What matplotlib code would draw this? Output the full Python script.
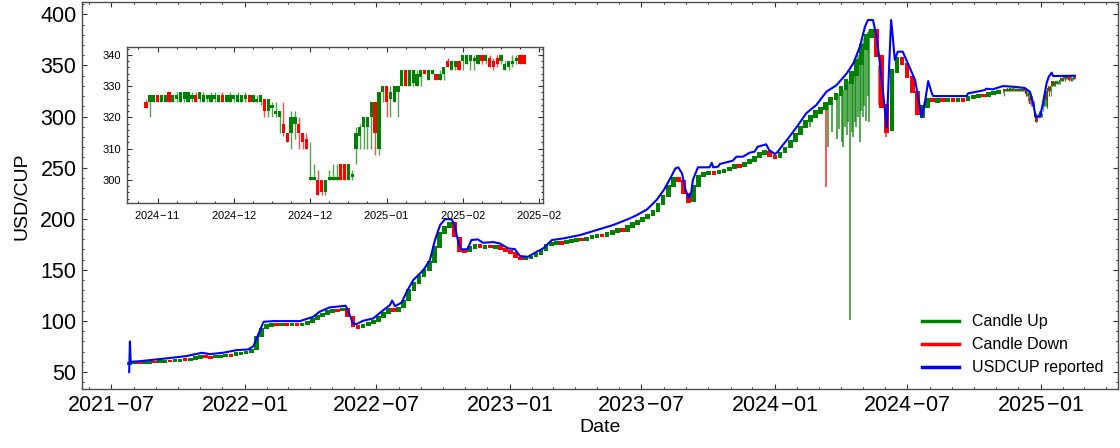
import matplotlib
matplotlib.use("Agg")
import numpy as np
import pandas as pd
import matplotlib.pyplot as plt
import matplotlib.dates as mdates
from matplotlib.lines import Line2D
from matplotlib.ticker import MultipleLocator, AutoMinorLocator, FuncFormatter

plt.rcParams['font.family'] = ['Liberation Sans', 'DejaVu Sans']
plt.rcParams['mathtext.fontset'] = 'custom'
plt.rcParams['mathtext.rm'] = 'Liberation Sans'

# reported rate (blue line)
reported_dates = [
    '2021-07-26', '2021-07-27', '2021-07-28', '2021-08-14', '2021-09-15', '2021-10-13',
    '2021-11-03', '2021-11-14', '2021-12-02', '2021-12-21', '2022-01-06', '2022-01-13',
    '2022-01-27', '2022-02-09', '2022-03-18', '2022-04-05', '2022-04-14', '2022-04-28',
    '2022-05-20', '2022-05-23', '2022-05-30', '2022-06-04', '2022-06-13', '2022-06-27',
    '2022-07-11', '2022-07-20', '2022-07-23', '2022-07-27', '2022-08-05', '2022-08-12',
    '2022-08-21', '2022-09-04', '2022-09-13', '2022-09-20', '2022-09-27', '2022-10-04',
    '2022-10-13', '2022-10-17', '2022-10-22', '2022-10-26', '2022-11-04', '2022-11-09',
    '2022-11-18', '2022-11-25', '2022-12-09', '2022-12-18', '2022-12-30', '2023-01-08',
    '2023-01-15', '2023-01-26', '2023-02-07', '2023-02-16', '2023-02-28', '2023-03-16',
    '2023-04-08', '2023-05-01', '2023-05-23', '2023-06-13', '2023-06-25', '2023-07-09',
    '2023-07-22', '2023-08-01', '2023-08-10', '2023-08-17', '2023-08-21', '2023-08-26',
    '2023-08-31', '2023-09-04', '2023-09-08', '2023-09-10', '2023-09-17', '2023-10-03',
    '2023-10-06', '2023-10-08', '2023-10-15', '2023-10-17', '2023-11-04', '2023-11-09',
    '2023-11-18', '2023-11-27', '2023-12-04', '2023-12-08', '2023-12-20', '2023-12-24',
    '2024-01-01', '2024-01-05', '2024-01-10', '2024-01-21', '2024-02-02', '2024-02-13',
    '2024-02-27', '2024-03-12', '2024-03-26', '2024-04-09', '2024-04-18', '2024-04-27',
    '2024-05-04', '2024-05-08', '2024-05-15', '2024-05-20', '2024-05-24', '2024-05-29',
    '2024-06-03', '2024-06-06', '2024-06-09', '2024-06-12', '2024-06-14', '2024-06-18',
    '2024-06-25', '2024-07-03', '2024-07-12', '2024-07-21', '2024-07-26', '2024-07-30',
    '2024-08-04', '2024-08-06', '2024-09-21', '2024-09-23', '2024-10-05', '2024-10-16',
    '2024-10-18', '2024-10-27', '2024-11-03', '2024-11-10', '2024-11-28', '2024-12-10',
    '2024-12-17', '2024-12-21', '2024-12-25', '2024-12-31', '2025-01-04', '2025-01-09',
    '2025-01-12', '2025-01-16', '2025-01-18', '2025-02-17',
]
reported_vals = [
    50, 80, 60, 61, 63.4, 65.7,
    68.9, 67.6, 68.9, 71.5, 72.2, 75.4,
    99.2, 99.9, 99.9, 104, 109, 113.3,
    114.9, 110.7, 97.7, 97, 100.2, 102.5,
    110.7, 115.6, 120, 114.5, 118, 128.6,
    140, 149.8, 159.6, 179.2, 193.8, 199.7,
    199.4, 193.8, 177.5, 170, 170.3, 179.2,
    179.8, 176.5, 177.2, 175.9, 171, 170.3,
    163.5, 162.8, 167.7, 171, 179.2, 180.8,
    184.1, 189, 193.8, 199.7, 203.6, 209.2,
    218.3, 228.1, 239.6, 249.3, 250.3, 244.4,
    228.1, 220.5, 226.4, 237.9, 250.3, 250.3,
    254.8, 250.3, 251, 253.5, 256.8, 260.7,
    260.7, 264.6, 265.6, 270.4, 272.8, 267.2,
    263.3, 265.6, 270.4, 280.2, 291.7, 303.1,
    311.3, 324.3, 330.8, 342.3, 352.1, 368.3,
    387.9, 394.4, 394.4, 378.1, 355.3, 322.7,
    289, 345, 394.4, 372, 355.3, 363.4,
    363.4, 350.4, 335.7, 299.8, 316.1, 334.7,
    322.7, 320, 320, 322.7, 324.3, 325.9,
    327.2, 326.6, 328.2, 329.8, 328.9, 327.9,
    324.3, 314.5, 299.8, 299.8, 312.9, 332.5,
    338.9, 342.9, 339.6, 339.9,
]

# weekly candles, 2021-07-26 .. 2024-11-04
week_start = '2021-07-26'
week_open = [
    # 2021
    57, 57.5, 60.5, 57.5, 58, 61, 58.5, 59, 62, 59.5, 60, 63.5, 61, 62, 63, 66.5, 66,
    63.5, 64, 64.5, 68, 66, 67,
    # 2022
    67.5, 68.5, 72, 84, 92, 94.5, 98.5, 95, 98.5, 95, 98.5, 95.5, 96, 98, 101, 103.5,
    106, 108, 112, 109.5, 113, 105, 96, 93, 95, 97, 99, 103, 107, 113, 109, 113, 120,
    129, 136, 143, 149, 157, 171, 185, 191, 196.5, 182, 170, 167, 170, 175, 170.5,
    174.5, 170.5, 174, 171,
    # 2023
    169.5, 167, 163, 159.5, 160.5, 162.5, 165, 168, 173, 174, 178, 175, 176, 177.5,
    181.5, 178.5, 180, 181.5, 185.5, 182.5, 184.5, 186, 190.5, 187.5, 191, 194, 196.5,
    199.5, 203, 207, 213, 221, 231, 241, 238, 225, 216, 231, 241, 242.5, 247, 243.5,
    245, 246.5, 249, 254, 251, 253.5, 256, 259, 262, 266.5,
    # 2024
    262, 259, 264, 269, 275, 282, 289, 295, 299, 302, 306, 311, 316, 320, 326, 332,
    340, 350, 365, 377, 386, 360, 312, 286, 343, 358, 352, 340, 325, 299, 308, 318,
    313.5, 318, 314, 318.5, 314, 318.5, 315.5, 317, 318, 322.5, 319.5, 321, 322,
]
week_close = [
    # 2021
    60, 60.5, 57.5, 60.5, 61, 58.5, 61.5, 62, 59.5, 62.5, 63, 60.5, 64, 65.5, 66.5,
    63.5, 63, 66.5, 67, 68, 65, 69.5, 70,
    # 2022
    71, 72.5, 85, 93, 97, 98, 95, 98.5, 95.5, 98.5, 95.5, 98.5, 100, 102.5, 105.5, 108,
    110.5, 111.5, 109, 113, 104, 94, 92.5, 97, 99, 101, 104.5, 108.5, 113, 108.5, 114,
    121, 131, 138, 145, 151, 159, 173, 187, 193, 196.5, 182, 167, 166.5, 173, 175, 171,
    174.5, 171, 174, 169.5, 167,
    # 2023
    166, 161.5, 159.5, 162.5, 164, 166.5, 169.5, 175, 177, 178, 174.5, 179, 180, 181.5,
    178, 182.5, 184, 185.5, 182, 187, 189, 190.5, 187, 193.5, 196.5, 199, 201.5, 204.5,
    209, 215, 223, 233, 241, 236, 224, 215.5, 233, 243, 246, 246.5, 243, 247.5, 249,
    250.5, 254, 250, 255.5, 258.5, 261, 265, 267, 260.5,
    # 2024
    258.5, 265.5, 270.5, 277, 284, 291, 297, 301, 306, 309, 314, 319, 323, 330, 337,
    345, 356, 371, 381, 386, 358, 308, 284, 346, 358, 350, 338, 323, 301, 311, 318,
    314, 318, 314, 318.5, 314.5, 318.5, 314.5, 320, 321, 322, 319, 324, 325, 326,
]

# daily candles, 2024-11-10 .. 2025-02-17 (inset window)
day_start = '2024-11-10'
day_open = [
    325, 325, 325, 327, 325, 325, 328, 325, 326, 325, 326, 325, 326, 327, 326, 325, 326,
    325, 326, 325, 327, 325, 325, 326, 325, 325, 326, 327, 325, 325, 325, 326, 322, 323,
    321, 320, 318, 315, 315, 318, 318, 315, 313, 300, 300, 300, 300, 296, 300, 300, 300,
    305, 305, 300, 301, 310, 314, 317, 317, 320, 325, 310, 328, 330, 326, 325, 328, 330,
    335, 330, 331, 330, 333, 335, 332, 334, 334, 332, 334, 338, 335, 336, 338, 338, 337,
    338, 338, 337, 340, 338, 339, 338, 339, 338, 335, 336, 337, 338, 340, 340,
]
day_close = [
    323, 327, 327, 325, 327, 327, 325, 327, 327, 328, 328, 328, 327, 325, 328, 327, 327,
    327, 327, 327, 325, 327, 327, 327, 327, 327, 327, 325, 327, 326, 327, 322, 326, 324,
    322, 322, 315, 312, 320, 320, 315, 312, 310, 301, 301, 295, 296, 300, 301, 301, 301,
    300, 300, 305, 302, 315, 317, 320, 320, 325, 315, 328, 330, 325, 328, 330, 330, 335,
    330, 335, 335, 334, 335, 334, 335, 335, 332, 334, 336, 336, 338, 338, 335, 340, 340,
    340, 339, 340, 338, 340, 336, 336, 337, 340, 337, 338, 338, 339, 337, 337,
]
day_low = [
    323, 320, 325, 325, 325, 325, 325, 325, 325, 325, 325, 325, 325, 325, 325, 325, 325,
    325, 325, 325, 325, 325, 325, 325, 325, 325, 325, 325, 325, 325, 324, 320, 320, 320,
    320, 315, 314, 312, 310, 313, 310, 310, 310, 300, 300, 295, 295, 295, 300, 300, 300,
    300, 300, 300, 300, 305, 310, 310, 310, 310, 308, 308, 325, 320, 320, 325, 320, 330,
    330, 330, 330, 330, 330, 334, 332, 334, 332, 332, 332, 336, 335, 335, 335, 335, 337,
    335, 335, 337, 337, 337, 336, 335, 336, 337, 335, 335, 336, 337, 337, 337,
]
day_high = [
    326, 327, 327, 327, 327, 327, 328, 327, 328, 328, 328, 328, 328, 328, 328, 328, 327,
    328, 328, 327, 328, 327, 328, 327, 328, 327, 328, 327, 327, 327, 327, 326, 326, 325,
    325, 322, 325, 315, 322, 322, 320, 315, 315, 312, 305, 303, 300, 300, 303, 305, 305,
    305, 305, 305, 303, 317, 318, 320, 320, 325, 325, 328, 330, 330, 330, 330, 330, 335,
    335, 335, 335, 335, 335, 335, 335, 335, 334, 335, 336, 339, 338, 338, 338, 340, 340,
    340, 340, 340, 340, 340, 340, 339, 340, 340, 338, 338, 340, 340, 340, 340,
]

# long lower wicks (spring 2024 sell-offs)
spike_dates = [
    '2024-02-18', '2024-03-11', '2024-03-14', '2024-03-20', '2024-03-26', '2024-03-29',
    '2024-04-02', '2024-04-04', '2024-04-07', '2024-04-09', '2024-04-11', '2024-04-13',
    '2024-04-16', '2024-04-18', '2024-04-20', '2024-04-22', '2024-04-25', '2024-04-27',
    '2024-04-29', '2024-05-01', '2024-05-03', '2024-05-06', '2024-05-08', '2024-05-10',
    '2024-05-23', '2024-06-02',
]
spike_lows = [
    290, 231, 270, 285, 278, 288, 275, 270, 290, 282, 295, 101, 285, 280, 295, 290, 300,
    275, 305, 300, 310, 296, 320, 295, 311, 280,
]
spike_highs = [
    300, 312, 313, 318, 320, 322, 325, 326, 330, 332, 335, 338, 340, 345, 350, 355, 360,
    365, 368, 372, 376, 380, 383, 385, 350, 300,
]
spike_up = [True, False] + [True] * 22 + [False, False]

UP, DOWN, REP = 'green', 'red', 'blue'


def draw_candles(ax, dates, o, c, lo, hi, width, wick_lw):
    o = np.asarray(o, float)
    c = np.asarray(c, float)
    col = np.where(c >= o, UP, DOWN)
    if lo is not None:
        ax.vlines(dates, lo, hi, colors=col, lw=wick_lw, alpha=0.7, zorder=2)
    body = np.where(np.abs(c - o) < 0.4, 0.4, c - o)
    ax.bar(dates, body, bottom=o, width=width, color=col, linewidth=0, zorder=3)


def date_label(x, pos=None):
    y, m = mdates.num2date(x).strftime('%Y %m').split()
    return r'$\mathdefault{%s\hspace{0.06}{-}\hspace{0.06}%s}$' % (y, m)


week_dates = pd.date_range(week_start, periods=len(week_open), freq='7D')
day_dates = pd.date_range(day_start, periods=len(day_open), freq='D')
rep_dates = pd.to_datetime(reported_dates)
sp_dates = pd.to_datetime(spike_dates)

fig = plt.figure(figsize=(11.2, 4.48), dpi=100)
ax = fig.add_axes([0.0732, 0.1306, 0.9248, 0.8649])

draw_candles(ax, week_dates, week_open, week_close, None, None, 6.5, 1)
draw_candles(ax, day_dates, day_open, day_close, day_low, day_high, 1.2, 0.8)
ax.vlines(sp_dates, spike_lows, spike_highs,
          colors=[UP if u else DOWN for u in spike_up], lw=1.1, alpha=0.85, zorder=2)
ax.plot(rep_dates, reported_vals, color=REP, lw=1.5, zorder=4)

ax.set_xlim(pd.Timestamp('2021-05-22'), pd.Timestamp('2025-04-17'))
ax.set_ylim(33, 412)
ax.xaxis.set_major_locator(mdates.MonthLocator(bymonth=[1, 7]))
ax.xaxis.set_minor_locator(mdates.MonthLocator())
ax.xaxis.set_major_formatter(FuncFormatter(date_label))
ax.yaxis.set_major_locator(MultipleLocator(50))
ax.yaxis.set_minor_locator(AutoMinorLocator(5))
ax.set_xlabel('Date', fontsize=14, labelpad=2)
ax.set_ylabel('USD/CUP', fontsize=14, labelpad=7)

handles = [Line2D([], [], color=UP, lw=2.5, label='Candle Up'),
           Line2D([], [], color=DOWN, lw=2.5, label='Candle Down'),
           Line2D([], [], color=REP, lw=2.5, label='USDCUP reported')]
ax.legend(handles=handles, loc='lower right', frameon=False, fontsize=11.5,
          handlelength=2.3)

# inset: last months in daily resolution
axin = fig.add_axes([0.1134, 0.5469, 0.3714, 0.3482])
axin.set_facecolor('white')
draw_candles(axin, mdates.date2num(day_dates), day_open, day_close, day_low, day_high,
             0.85, 1.0)
axin.set_xlim(20032, 20141)
axin.set_ylim(292.6, 342.5)
axin.xaxis.set_major_locator(MultipleLocator(20))
axin.xaxis.set_minor_locator(MultipleLocator(5))
axin.xaxis.set_major_formatter(FuncFormatter(date_label))
axin.yaxis.set_major_locator(MultipleLocator(10))
axin.yaxis.set_minor_locator(MultipleLocator(2))

for a, fs in ((ax, 15.5), (axin, 8)):
    a.tick_params(which='both', direction='in', top=True, right=True, width=0.8,
                  color='0.2')
    a.tick_params(which='major', length=3.3, labelsize=fs, pad=4)
    a.tick_params(which='minor', length=1.7)
    for s in a.spines.values():
        s.set_linewidth(1.0)
        s.set_color('0.3')

fig.savefig('out.png', dpi=100)
